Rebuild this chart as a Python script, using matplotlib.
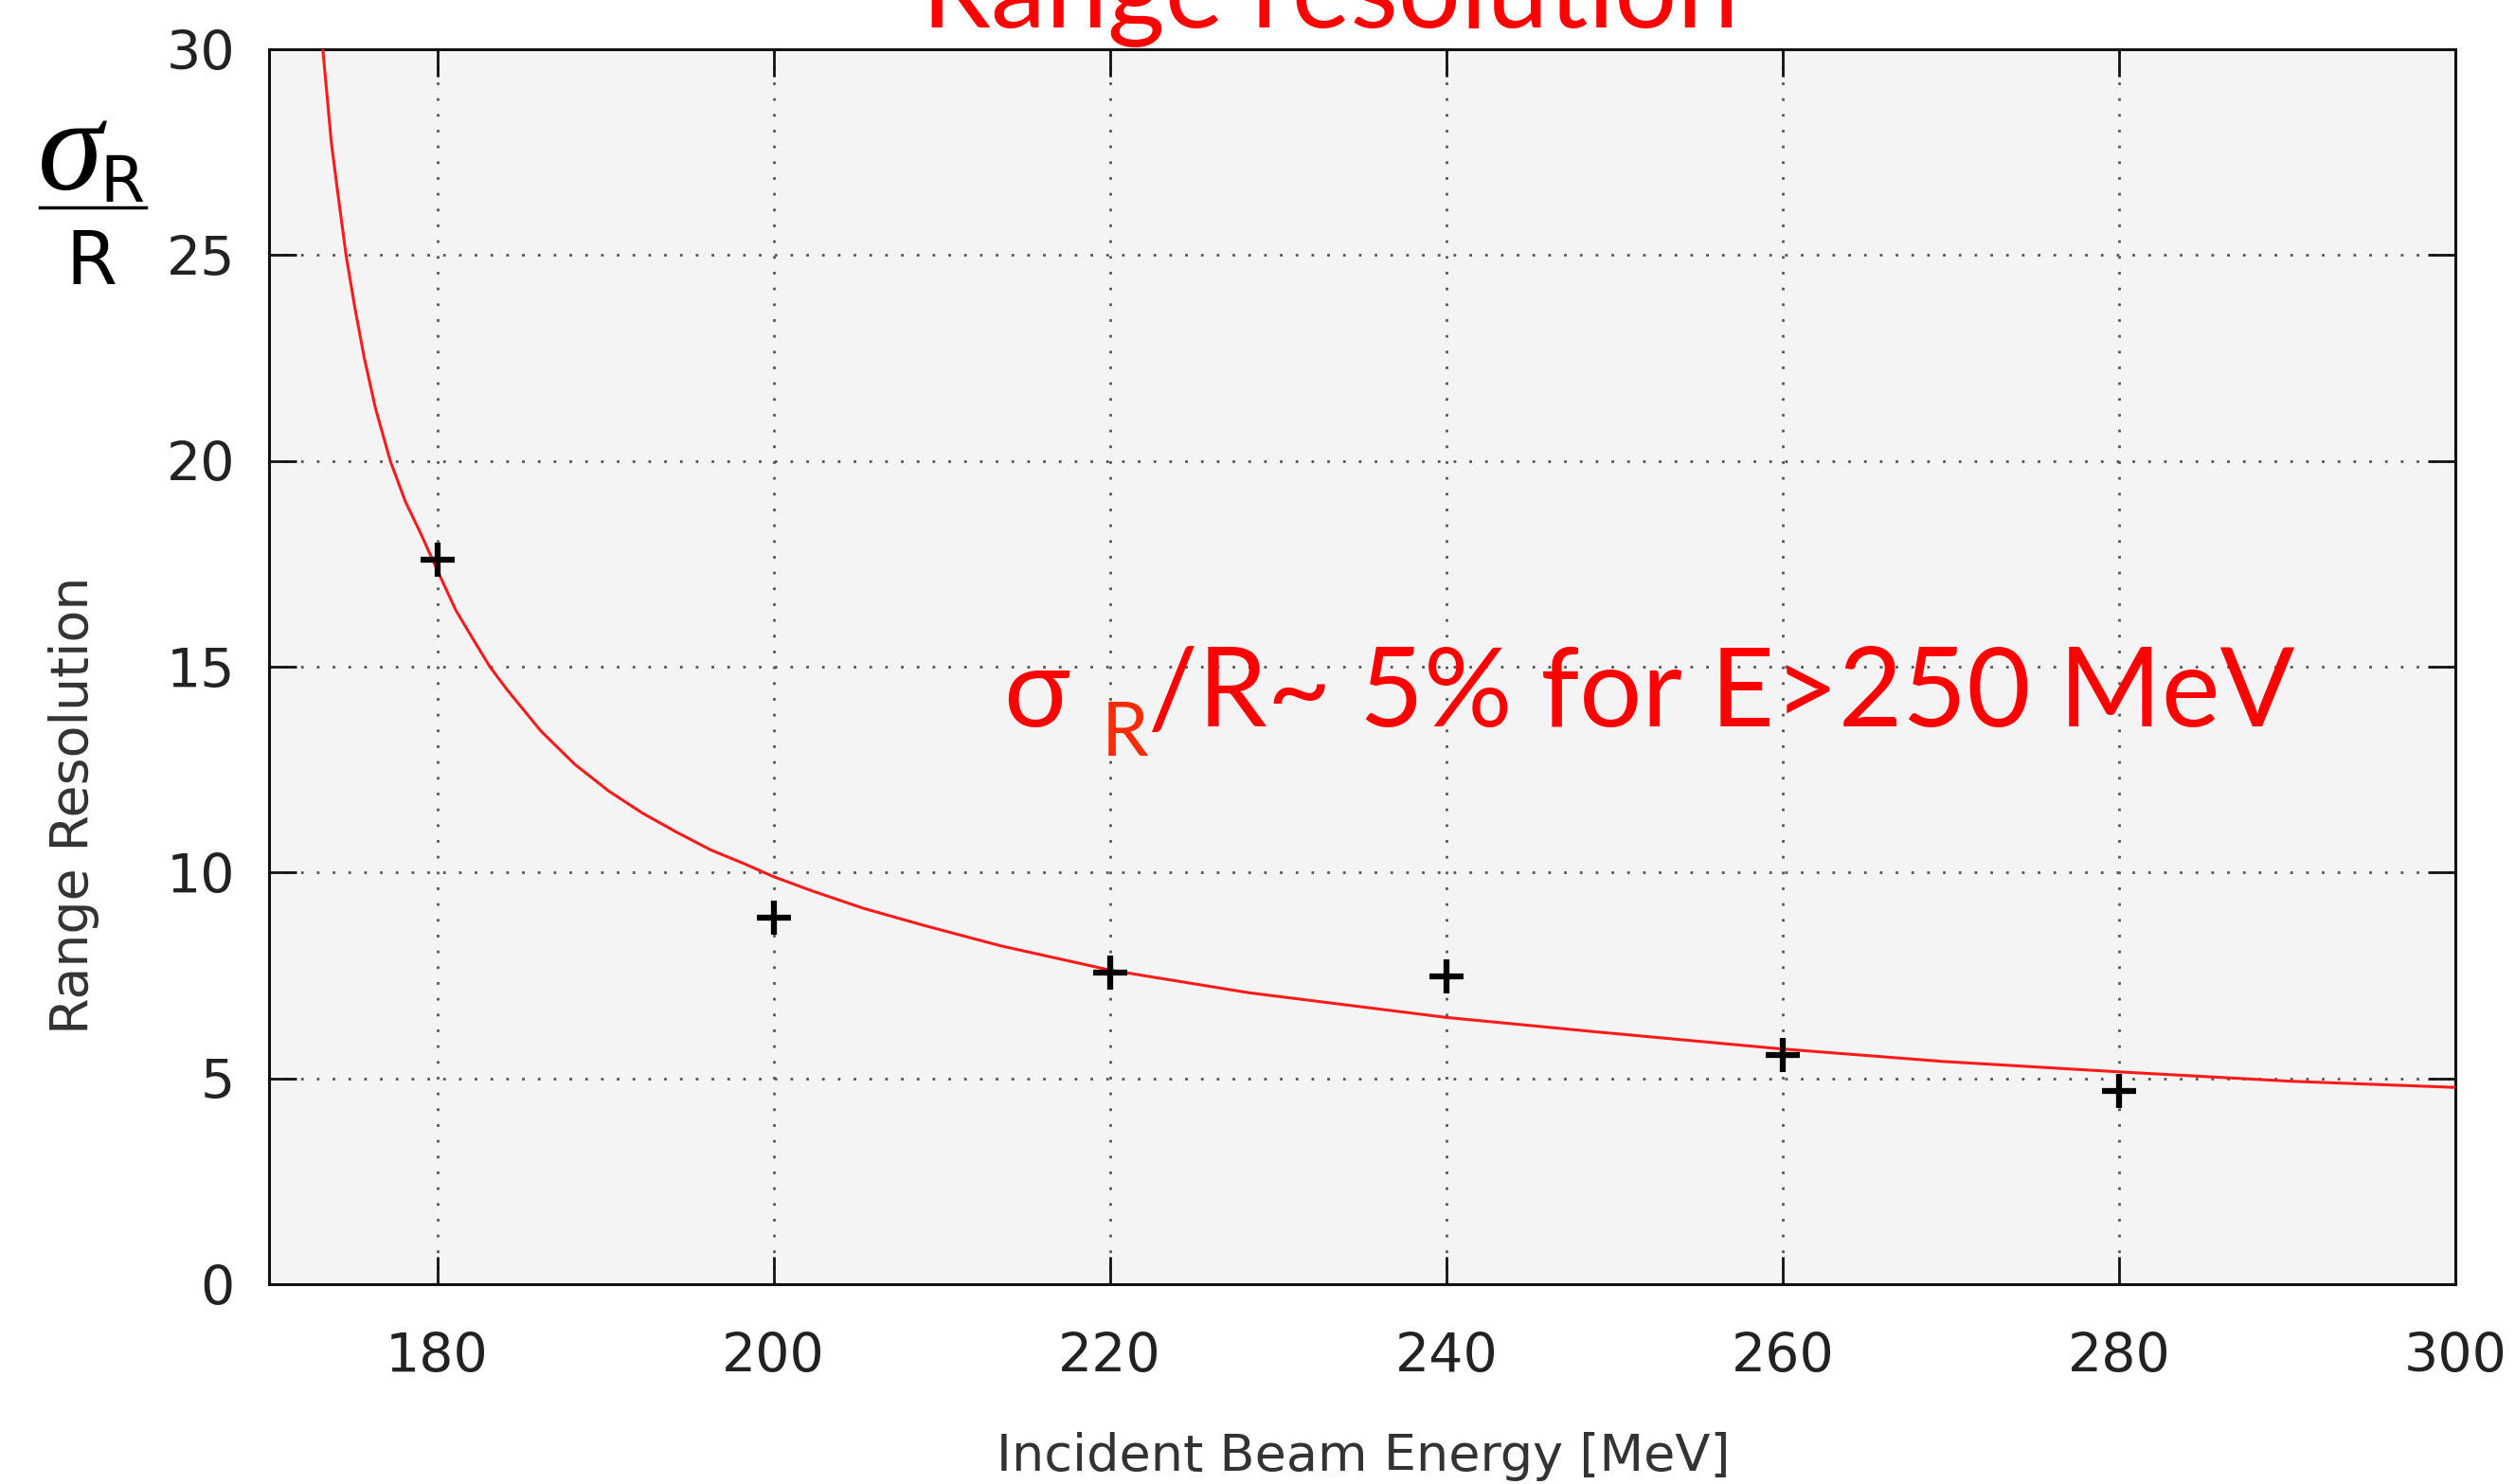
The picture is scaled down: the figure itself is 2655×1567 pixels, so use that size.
import matplotlib.pyplot as plt
from matplotlib.lines import Line2D

energia = [180, 200, 220, 240, 260, 280]
resolucion = [17.6, 8.9, 7.58, 7.47, 5.56, 4.70]

curva_x = [173.2, 173.7, 174.08, 174.58, 175.11, 175.67, 176.33, 177.21, 178.11, 179.04,
           180, 181.11, 182.12, 183.13, 184.14, 186.16, 188.18, 190.2, 192.22, 194.24,
           196.26, 198.28, 200, 202.32, 205.35, 208.99, 213.5, 220, 228.26, 240,
           248.9, 259.8, 269.56, 279.9, 290.2, 300]
curva_y = [30, 27.75, 26.54, 25, 23.71, 22.49, 21.28, 20.0, 19.01, 18.22,
           17.35, 16.37, 15.68, 15.0, 14.45, 13.44, 12.63, 11.98, 11.44, 10.98,
           10.55, 10.21, 9.9, 9.55, 9.13, 8.71, 8.22, 7.63, 7.08, 6.48,
           6.13, 5.72, 5.41, 5.16, 4.93, 4.78]

xticks = [180, 200, 220, 240, 260, 280, 300]
yticks = [0, 5, 10, 15, 20, 25, 30]

W, H = 2655, 1567
def px(x, y):
	return x / W, 1 - y / H

fig = plt.figure(figsize=(W / 100, H / 100), dpi=100)
ax = fig.add_axes([284 / W, 1 - 1356 / H, (2592 - 284) / W, (1356 - 52) / H])
ax.set_facecolor("#f4f4f4")

ax.plot(curva_x, curva_y, color="#ff1a1a", lw=2.2, zorder=3)
ax.plot(energia, resolucion, "+", color="black", markersize=26, mew=4.5, zorder=4)

ax.set_xlim(170, 300)
ax.set_ylim(0, 30)
ax.set_xticks(xticks)
ax.set_yticks(yticks)
ax.grid(True, color="#555555", lw=2.0, linestyle=(0, (1, 5)), zorder=1)
ax.set_axisbelow(True)
for s in ax.spines.values():
	s.set_linewidth(2.2)
	s.set_color("#111111")
ax.tick_params(axis="both", direction="in", length=21, width=2.0, colors="#111111",
               labelsize=41, labelcolor="#222222", top=True, right=True)
ax.tick_params(axis="x", pad=36)
ax.tick_params(axis="y", pad=26)

fig.text(*px(1439, 1553), "Incident Beam Energy [MeV]", fontsize=39, color="#333333",
         ha="center", va="baseline")
fig.text(*px(78, 850), "Range Resolution", fontsize=40, color="#333333",
         rotation=90, ha="center", va="center")

# sigma_R / R label in the corner
fig.text(*px(40, 200), "σ", fontsize=100, family="Liberation Serif", style="italic",
         color="black", ha="left", va="baseline")
fig.text(*px(105, 213), "R", fontsize=49, color="black", ha="left", va="baseline")
fig.add_artist(Line2D([42 / W, 154 / W], [1 - 219 / H, 1 - 219 / H], color="black", lw=2.5))
fig.text(*px(96, 300), "R", fontsize=56, color="black", ha="center", va="baseline")

# slide overlays
fig.text(*px(1404, 29), "Range resolution", fontsize=84, family=["Lato", "DejaVu Sans"],
         color="#ff0000", ha="center", va="baseline")
fig.text(*px(1059, 767), "σ", fontsize=84, family=["Lato", "DejaVu Sans"],
         color="#ff0000", ha="left", va="baseline")
fig.text(*px(1163, 798), "R", fontsize=57, family=["Lato", "DejaVu Sans"],
         color="#ff2a00", ha="left", va="baseline")
fig.text(*px(1212, 767), "/R~ 5% for E>250 MeV", fontsize=84, family=["Lato", "DejaVu Sans"],
         color="#ff0000", ha="left", va="baseline")

fig.savefig("out.png", dpi=100)
